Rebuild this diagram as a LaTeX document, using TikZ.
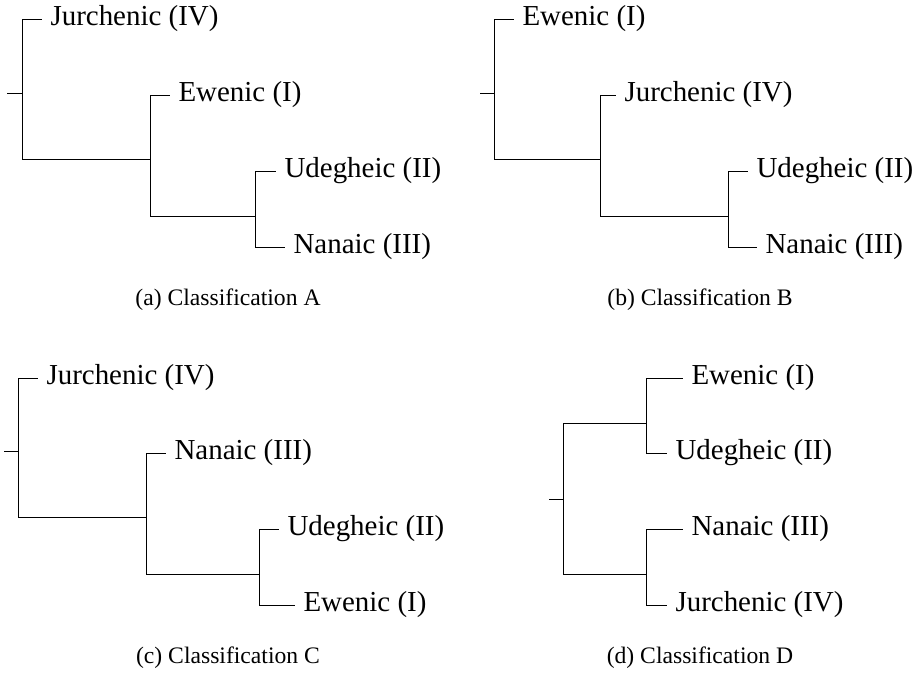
\documentclass[tikz,border=0pt]{standalone}
\usepackage{fontspec}
\setmainfont{Liberation Serif}
\usepackage{tikz}
\usetikzlibrary{positioning}

\begin{document}
\begin{tikzpicture}[
    x=0.4145pt, y=-0.4145pt,
    leaf/.style={anchor=west, font=\fontsize{12}{14}\selectfont},
    caption/.style={font=\fontsize{9.8}{12}\selectfont},
    branch/.style={line width=0.4pt}
  ]
    \useasboundingbox (0,0) rectangle (916,673);

    % (a) Classification A
    \coordinate (aRoot) at (7,93);
    \coordinate (aN1) at (22,93);
    \coordinate (aN2) at (150,159);
    \coordinate (aN3) at (255,216);
    \node[leaf] (aJur) at (42,19) {Jurchenic (IV)};
    \node[leaf] (aEwe) at (170,95) {Ewenic (I)};
    \node[leaf] (aUde) at (276,171) {Udegheic (II)};
    \node[leaf] (aNan) at (285,247) {Nanaic (III)};
    \node[caption] (capA) at (228,300) {(a) Classification A};

    \draw[branch] (aRoot) -- (aN1);
    \draw[branch] (aN1) |- (aJur.west);
    \draw[branch] (aN1) |- (aN2);
    \draw[branch] (aN2) |- (aEwe.west);
    \draw[branch] (aN2) |- (aN3);
    \draw[branch] (aN3) |- (aUde.west);
    \draw[branch] (aN3) |- (aNan.west);

    % (b) Classification B
    \coordinate (bRoot) at (480,93);
    \coordinate (bN1) at (494,93);
    \coordinate (bN2) at (600,159);
    \coordinate (bN3) at (728,216);
    \node[leaf] (bEwe) at (514,19) {Ewenic (I)};
    \node[leaf] (bJur) at (616,95) {Jurchenic (IV)};
    \node[leaf] (bUde) at (748,171) {Udegheic (II)};
    \node[leaf] (bNan) at (757,247) {Nanaic (III)};
    \node[caption] (capB) at (700,300) {(b) Classification B};

    \draw[branch] (bRoot) -- (bN1);
    \draw[branch] (bN1) |- (bEwe.west);
    \draw[branch] (bN1) |- (bN2);
    \draw[branch] (bN2) |- (bJur.west);
    \draw[branch] (bN2) |- (bN3);
    \draw[branch] (bN3) |- (bUde.west);
    \draw[branch] (bN3) |- (bNan.west);

    % (c) Classification C
    \coordinate (cRoot) at (4,451);
    \coordinate (cN1) at (18,451);
    \coordinate (cN2) at (146,517);
    \coordinate (cN3) at (259,574);
    \node[leaf] (cJur) at (38,378) {Jurchenic (IV)};
    \node[leaf] (cNan) at (166,453) {Nanaic (III)};
    \node[leaf] (cUde) at (279,529) {Udegheic (II)};
    \node[leaf] (cEwe) at (295,605) {Ewenic (I)};
    \node[caption] (capC) at (228,658) {(c) Classification C};

    \draw[branch] (cRoot) -- (cN1);
    \draw[branch] (cN1) |- (cJur.west);
    \draw[branch] (cN1) |- (cN2);
    \draw[branch] (cN2) |- (cNan.west);
    \draw[branch] (cN2) |- (cN3);
    \draw[branch] (cN3) |- (cUde.west);
    \draw[branch] (cN3) |- (cEwe.west);

    % (d) Classification D
    \coordinate (dRoot) at (549,499);
    \coordinate (dN1) at (563,499);
    \coordinate (dN2) at (646,423);
    \coordinate (dN3) at (646,574);
    \node[leaf] (dEwe) at (683,378) {Ewenic (I)};
    \node[leaf] (dUde) at (667,453) {Udegheic (II)};
    \node[leaf] (dNan) at (683,529) {Nanaic (III)};
    \node[leaf] (dJur) at (667,605) {Jurchenic (IV)};
    \node[caption] (capD) at (700,658) {(d) Classification D};

    \draw[branch] (dRoot) -- (dN1);
    \draw[branch] (dN1) |- (dN2);
    \draw[branch] (dN1) |- (dN3);
    \draw[branch] (dN2) |- (dEwe.west);
    \draw[branch] (dN2) |- (dUde.west);
    \draw[branch] (dN3) |- (dNan.west);
    \draw[branch] (dN3) |- (dJur.west);
  \end{tikzpicture}
\end{document}
